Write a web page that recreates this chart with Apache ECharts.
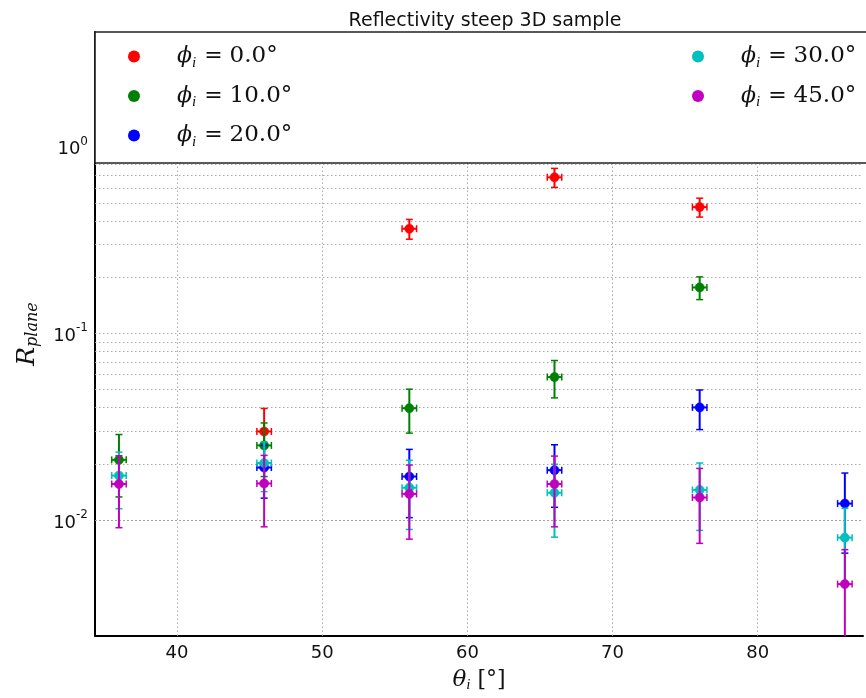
<!DOCTYPE html>
<html><head><meta charset="utf-8">
<script src="https://cdn.jsdelivr.net/npm/echarts@6/dist/echarts.min.js"></script>
<style>html,body{margin:0;padding:0;background:#fff}#c{width:866px;height:698px}</style>
</head><body><div id="c"></div>
<script>
// ---- data ----
const chartTitle = 'Reflectivity steep 3D sample';
const thetas = [36, 46, 56, 66, 76, 86];
const phiLabels = ['0.0', '10.0', '20.0', '30.0', '45.0'];
const seriesColors = ['#ff0000', '#008000', '#0000ff', '#00bfbf', '#bf00bf'];
const R_phi0  = [null,   0.0298, 0.363,  0.684,  0.474,  null];
const E_phi0  = [null,   0.0098, 0.044,  0.080,  0.055,  null];
const R_phi10 = [0.0210, 0.0251, 0.0397, 0.0583, 0.176,  null];
const E_phi10 = [0.0077, 0.0080, 0.0105, 0.0132, 0.0245, null];
const R_phi20 = [null,   0.0191, 0.0171, 0.0185, 0.0401, 0.01225];
const E_phi20 = [null,   0.0060, 0.0068, 0.0068, 0.0096, 0.0056];
const R_phi30 = [0.0173, 0.0202, 0.0149, 0.0140, 0.0145, 0.00805];
const E_phi30 = [0.0058, 0.0060, 0.0060, 0.0059, 0.0057, 0.0035];
const R_phi45 = [0.0156, 0.0157, 0.0138, 0.0156, 0.0132, 0.00454];
const E_phi45 = [0.0065, 0.0065, 0.0059, 0.0064, 0.0057, 0.0024];
const xErr = 0.5;
const xTicks = [40, 50, 60, 70, 80];
// gridlines visible below the legend box
const yGridValues = [0.003,0.004,0.005,0.006,0.007,0.008,0.009,0.01,
  0.02,0.03,0.04,0.05,0.06,0.07,0.08,0.09,0.1,
  0.2,0.3,0.4,0.5,0.6,0.7,0.8];
const xMin = 34.35, xMax = 87.25, yMin = 0.002394, yMax = 4.105;
const legendBoxBottomValue = 0.825;

const allR = [R_phi0, R_phi10, R_phi20, R_phi30, R_phi45];
const allE = [E_phi0, E_phi10, E_phi20, E_phi30, E_phi45];
const names = phiLabels.map(p => 'phi_i = ' + p + '°');

function renderErr(params, api) {
  const x = api.value(0), y = api.value(1), e = api.value(2);
  const c = api.visual('color');
  const p = api.coord([x, y]);
  const top = api.coord([x, y + e]);
  const lowV = (y - e) > 0 ? (y - e) : 1e-6;
  const bot = api.coord([x, lowV]);
  const l = api.coord([x - xErr, y]);
  const r = api.coord([x + xErr, y]);
  const cap = 3.5;
  const st = {stroke: c, lineWidth: 2};
  const cst = {stroke: c, lineWidth: 1.5};
  const line = (x1, y1, x2, y2, s) => ({type: 'line', shape: {x1, y1, x2, y2}, style: s || st});
  return {type: 'group', children: [
    line(p[0], top[1], p[0], bot[1]),
    line(p[0] - cap, top[1], p[0] + cap, top[1], cst),
    line(p[0] - cap, bot[1], p[0] + cap, bot[1], cst),
    line(l[0], p[1], r[0], p[1]),
    line(l[0], p[1] - cap, l[0], p[1] + cap, cst),
    line(r[0], p[1] - cap, r[0], p[1] + cap, cst),
    {type: 'circle', shape: {cx: p[0], cy: p[1], r: 4.6}, style: {fill: c, stroke: c, lineWidth: 0.5}}
  ]};
}

const dataSeries = allR.map((R, k) => ({
  name: names[k],
  type: 'custom',
  renderItem: renderErr,
  clip: true,
  z: 2,
  itemStyle: {color: seriesColors[k]},
  encode: {x: 0, y: 1},
  data: thetas.map((t, i) => R[i] == null ? null : [t, R[i], allE[k][i]]).filter(d => d)
}));

const gridStyle = {type: [1.5, 2.5], color: '#a0a0a0', width: 0.9};
const gridSeries = {
  type: 'line', silent: true, z: 1, symbol: 'none', data: [[50, 0.1]],
  lineStyle: {opacity: 0}, tooltip: {show: false},
  markLine: {
    z: 1, silent: true, symbol: ['none', 'none'], label: {show: false}, animation: false,
    lineStyle: gridStyle,
    data: yGridValues.map(v => ({yAxis: v})).concat(
      xTicks.map(v => [{coord: [v, yMin]}, {coord: [v, legendBoxBottomValue]}]))
  }
};

const legendRich = {
  sp: {width: 32},
  phi: {fontFamily: 'DejaVu Serif', fontStyle: 'italic', fontSize: 22, color: '#111', lineHeight: 28},
  sub: {fontFamily: 'Liberation Serif', fontStyle: 'italic', fontSize: 15, color: '#111', verticalAlign: 'bottom', lineHeight: 16},
  eq: {fontFamily: 'DejaVu Serif', fontSize: 22, color: '#111', padding: [0, 7, 0, 8], lineHeight: 28},
  num: {fontFamily: 'DejaVu Serif', fontSize: 23, color: '#111', lineHeight: 28}
};
function legendFmt(name) {
  const i = names.indexOf(name);
  return '{sp|}{phi|ϕ}{sub|i}{eq|=}{num|' + phiLabels[i] + '°}';
}
function mkLegend(list, left) {
  return {
    z: 20,
    data: list.map(n => ({name: n, icon: 'circle'})),
    orient: 'vertical', left: left, top: 40, itemWidth: 12, itemHeight: 12, itemGap: 14,
    formatter: legendFmt, textStyle: {rich: legendRich}, selectedMode: false
  };
}

const chart = echarts.init(document.getElementById('c'), null, {renderer: 'canvas'});
chart.setOption({
  animation: false,
  backgroundColor: '#fff',
  title: {
    text: chartTitle, left: 480, top: 7, textAlign: 'center',
    textStyle: {fontFamily: 'DejaVu Sans', fontSize: 19, fontWeight: 'normal', color: '#111'}
  },
  legend: [mkLegend(names.slice(0, 3), 123), mkLegend(names.slice(3), 687)],
  grid: {left: 95, right: 0, top: 32, bottom: 58, containLabel: false},
  xAxis: {
    type: 'value', min: xMin, max: xMax,
    name: '{t|θ}{i|i}{r| [°]}', nameLocation: 'middle', nameGap: 31,
    nameTextStyle: {rich: {
      t: {fontFamily: 'DejaVu Serif', fontStyle: 'italic', fontSize: 23, color: '#111', lineHeight: 26},
      i: {fontFamily: 'Liberation Serif', fontStyle: 'italic', fontSize: 15, color: '#111', verticalAlign: 'bottom', lineHeight: 14},
      r: {fontFamily: 'DejaVu Serif', fontSize: 22, color: '#111', lineHeight: 26}
    }},
    axisLine: {show: true, onZero: false, lineStyle: {color: '#000', width: 2}},
    axisTick: {show: false},
    splitLine: {show: false},
    axisLabel: {
      margin: 8, fontFamily: 'DejaVu Sans', fontSize: 18, color: '#111',
      formatter: v => (Math.abs(v - Math.round(v)) < 1e-6 && xTicks.indexOf(Math.round(v)) >= 0) ? String(Math.round(v)) : ''
    }
  },
  yAxis: {
    type: 'log', logBase: 10, min: yMin, max: yMax,
    name: '{R|R}{p|plane}', nameLocation: 'middle', nameRotate: 90, nameGap: 54,
    nameTextStyle: {rich: {
      R: {fontFamily: 'DejaVu Serif', fontStyle: 'italic', fontSize: 25, color: '#111', lineHeight: 28},
      p: {fontFamily: 'DejaVu Serif', fontStyle: 'italic', fontSize: 16, color: '#111', verticalAlign: 'bottom', lineHeight: 14}
    }},
    axisLine: {show: true, onZero: false, lineStyle: {color: '#000', width: 2}},
    axisTick: {show: false},
    splitLine: {show: false},
    axisLabel: {
      margin: 7, color: '#111',
      formatter: v => {
        const e = Math.log10(v);
        const r = Math.round(e);
        if (Math.abs(e - r) > 1e-6) return '';
        return '{b|10}{s|' + r + '}';
      },
      rich: {
        b: {fontFamily: 'DejaVu Sans', fontSize: 18, color: '#111', lineHeight: 22, padding: [6, 0, 0, 0]},
        s: {fontFamily: 'DejaVu Sans', fontSize: 12, color: '#111', verticalAlign: 'top', lineHeight: 12}
      }
    }
  },
  graphic: {
    elements: [{
      type: 'rect', z: 10, silent: true,
      shape: {x: 95, y: 32, width: 800, height: 131},
      style: {fill: '#fff', stroke: '#222', lineWidth: 1.6}
    }]
  },
  series: [gridSeries].concat(dataSeries)
});
</script></body></html>
